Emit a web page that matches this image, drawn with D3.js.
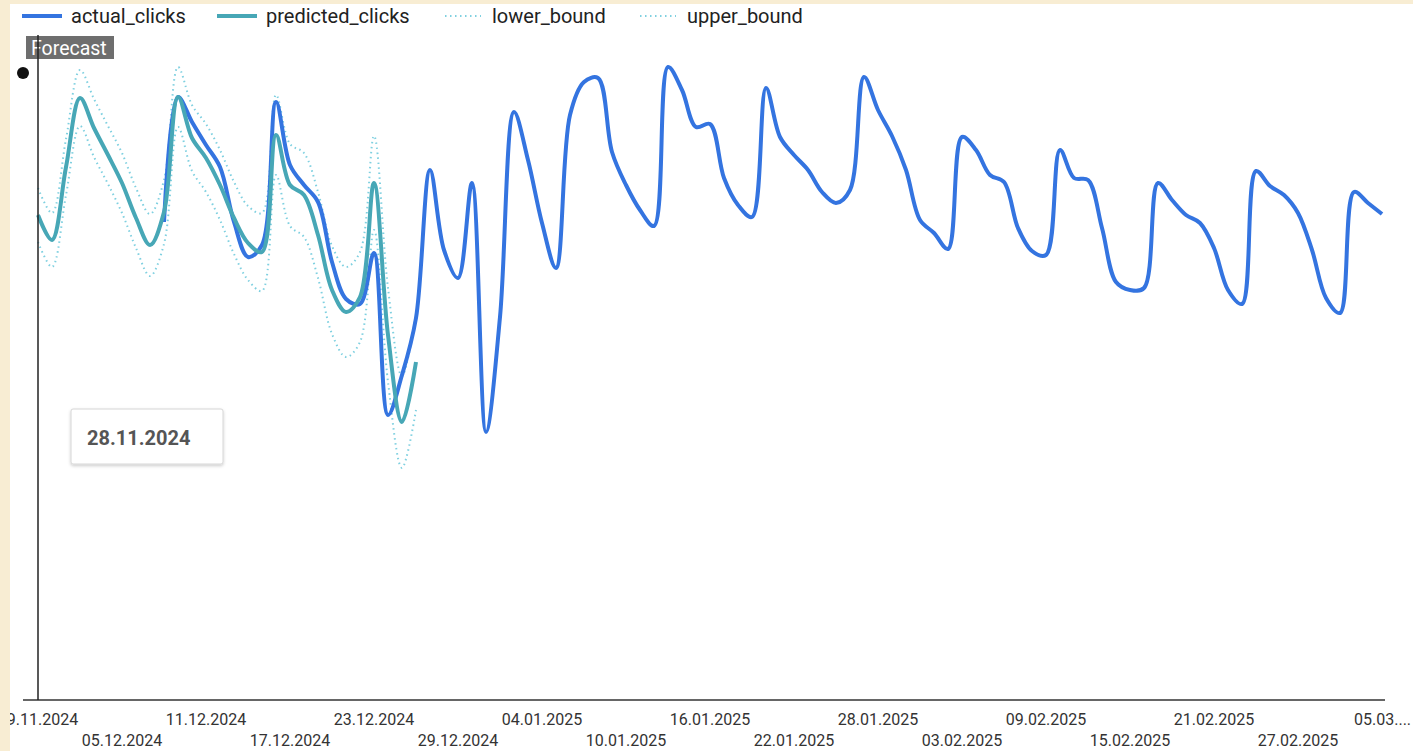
<!DOCTYPE html>
<html>
<head>
<meta charset="utf-8">
<script src="https://cdn.jsdelivr.net/npm/d3@7"></script>
<style>
  html, body { margin: 0; padding: 0; background: #F8EDD3; }
  svg { display: block; font-family: Roboto, "Noto Sans", sans-serif; }
</style>
</head>
<body>
<svg id="chart" width="1413" height="751"></svg>
<script>
// ---------------- DATA ----------------
const startDate = "2024-11-29";
const endDate = "2025-03-05";
const tooltipDate = "28.11.2024";
const seriesNames = ["actual_clicks", "predicted_clicks", "lower_bound", "upper_bound"];

// predicted_clicks: daily values from 29.11.2024 (day 0) to 26.12.2024 (day 27)
const predictedClicks = [485, 460, 533, 602, 572, 545, 517, 482, 455, 488, 603, 562, 542, 515, 482, 457, 448, 565, 515, 505, 465, 410, 388, 403, 517, 365, 278, 338];
const upperBound = [512, 487, 561, 630, 601, 574, 547, 512, 486, 520, 633, 595, 576, 550, 518, 494, 487, 605, 556, 547, 508, 454, 433, 448, 564, 412, 324, 386];
const lowerBound = [458, 433, 505, 574, 543, 516, 487, 452, 424, 456, 573, 529, 508, 480, 446, 420, 409, 525, 474, 463, 422, 366, 343, 358, 470, 318, 232, 290];

// actual_clicks: daily values from 08.12.2024 (day 9) to 05.03.2025 (day 96)
const actualStartDay = 9;
const actualClicks = [
  478, 603, 578, 555, 533, 478, 443, 455, 598, 535, 515, 498, 438, 401, 396, 447, 285, 325, 382, 530,
  450, 422, 517, 268, 383, 588, 540, 477, 432, 585, 618, 622, 548, 515, 490, 474, 633, 610, 573, 576,
  522, 495, 483, 612, 563, 545, 530, 508, 497, 510, 623, 590, 564, 530, 480, 467, 451, 563, 550, 525,
  518, 472, 449, 445, 550, 522, 520, 472, 418, 410, 412, 517, 500, 485, 477, 452, 410, 396, 529, 514,
  505, 487, 450, 402, 387, 508, 497, 486
];

// x tick labels (every 6 days)
const tickLabels = ["29.11.2024", "05.12.2024", "11.12.2024", "17.12.2024", "23.12.2024", "29.12.2024",
  "04.01.2025", "10.01.2025", "16.01.2025", "22.01.2025", "28.01.2025", "03.02.2025", "09.02.2025",
  "15.02.2025", "21.02.2025", "27.02.2025", "05.03.2025"];

// ---------------- CHART ----------------
const svg = d3.select("#chart");
const W = 1413, H = 751;
const colors = { actual: "#3474E0", predicted: "#47A7B6", bound: "#7FD0E0" };

svg.append("rect").attr("x", 10).attr("y", 4).attr("width", W - 10).attr("height", H - 4).attr("fill", "#ffffff");

const parse = d3.timeParse("%Y-%m-%d");
const parseTick = d3.timeParse("%d.%m.%Y");
const t0 = parse(startDate), t1 = parse(endDate);
const dayOf = i => d3.timeDay.offset(t0, i);

const x = d3.scaleTime().domain([t0, t1]).range([38, 1382]);
const y = d3.scaleLinear().domain([0, 660]).range([700, 40]);

const predData = predictedClicks.map((v, i) => ({ date: dayOf(i), v }));
const upData = upperBound.map((v, i) => ({ date: dayOf(i), v }));
const lowData = lowerBound.map((v, i) => ({ date: dayOf(i), v }));
const actData = actualClicks.map((v, i) => ({ date: dayOf(actualStartDay + i), v }));

const line = d3.line().x(d => x(d.date)).y(d => y(d.v)).curve(d3.curveCatmullRom.alpha(0.5));

// bounds (dotted)
[lowData, upData].forEach(data => {
  svg.append("path").datum(data).attr("d", line)
    .attr("fill", "none").attr("stroke", colors.bound).attr("stroke-width", 2)
    .attr("stroke-dasharray", "1.5,3.5");
});

// actual
svg.append("path").datum(actData).attr("d", line)
  .attr("fill", "none").attr("stroke", colors.actual).attr("stroke-width", 4)
  .attr("stroke-linejoin", "round").attr("stroke-linecap", "butt");

// predicted
svg.append("path").datum(predData).attr("d", line)
  .attr("fill", "none").attr("stroke", colors.predicted).attr("stroke-width", 4)
  .attr("stroke-linejoin", "round").attr("stroke-linecap", "butt");

// x axis line
svg.append("line").attr("x1", 23).attr("x2", 1385).attr("y1", 700).attr("y2", 700)
  .attr("stroke", "#333").attr("stroke-width", 1.5);

// tick labels
const lastIdx = tickLabels.length - 1;
svg.append("g").selectAll("text").data(tickLabels).join("text")
  .attr("x", d => x(parseTick(d)))
  .attr("y", (d, i) => i % 2 === 0 ? 725 : 746)
  .attr("text-anchor", (d, i) => i === lastIdx ? "start" : "middle")
  .attr("dx", (d, i) => i === lastIdx ? -28 : 0)
  .attr("font-size", 16).attr("fill", "#333")
  .text((d, i) => i === lastIdx ? d.slice(0, 5) + "...." : d);

// forecast marker
svg.append("rect").attr("x", 26).attr("y", 36).attr("width", 88).attr("height", 23)
  .attr("fill", "#666").attr("opacity", 0.95);
svg.append("text").attr("x", 31).attr("y", 55).attr("font-size", 19.5).attr("fill", "#fff").text("Forecast");
svg.append("line").attr("x1", 38).attr("x2", 38).attr("y1", 35).attr("y2", 700)
  .attr("stroke", "#222").attr("stroke-width", 1.5);
svg.append("circle").attr("cx", 23).attr("cy", 73).attr("r", 6).attr("fill", "#111");

// tooltip box
const defs = svg.append("defs");
const f = defs.append("filter").attr("id", "shadow").attr("x", "-10%").attr("y", "-10%").attr("width", "130%").attr("height", "140%");
f.append("feDropShadow").attr("dx", 0).attr("dy", 1.5).attr("stdDeviation", 1.5).attr("flood-color", "#000").attr("flood-opacity", 0.2);
svg.append("rect").attr("x", 71).attr("y", 409).attr("width", 152).attr("height", 55).attr("rx", 2)
  .attr("fill", "#fff").attr("stroke", "#d6d6d6").attr("filter", "url(#shadow)");
svg.append("text").attr("x", 87).attr("y", 445).attr("font-size", 20).attr("font-weight", "bold")
  .attr("fill", "#555").text(tooltipDate);

// legend
const legendItems = [
  { name: seriesNames[0], color: colors.actual, dotted: false, x: 22, w: 40 },
  { name: seriesNames[1], color: colors.predicted, dotted: false, x: 217, w: 40 },
  { name: seriesNames[2], color: colors.bound, dotted: true, x: 445, w: 36 },
  { name: seriesNames[3], color: colors.bound, dotted: true, x: 640, w: 36 }
];
const lg = svg.append("g").selectAll("g").data(legendItems).join("g");
lg.append("line").attr("x1", d => d.x).attr("x2", d => d.x + d.w).attr("y1", 16).attr("y2", 16)
  .attr("stroke", d => d.color).attr("stroke-width", d => d.dotted ? 2 : 4)
  .attr("stroke-dasharray", d => d.dotted ? "1.5,3.5" : null);
lg.append("text").attr("x", d => d.x + d.w + (d.dotted ? 11 : 9)).attr("y", 23)
  .attr("font-size", 20).attr("fill", "#222").text(d => d.name);

// cream edge overlay (clips first tick label)
svg.append("rect").attr("x", 0).attr("y", 0).attr("width", 10).attr("height", H).attr("fill", "#F8EDD3");
svg.append("rect").attr("x", 0).attr("y", 0).attr("width", W).attr("height", 4).attr("fill", "#F8EDD3");
</script>
</body>
</html>
